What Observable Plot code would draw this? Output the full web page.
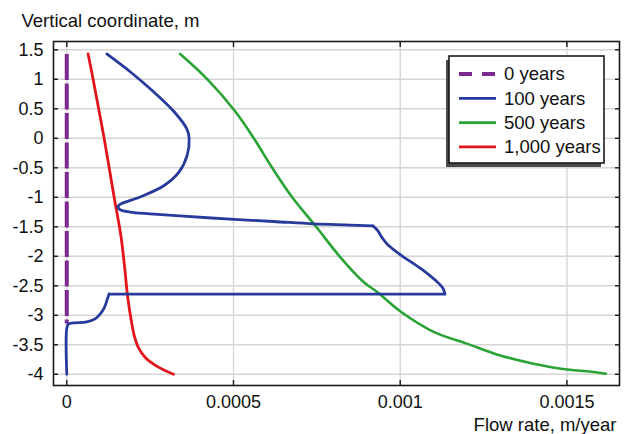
<!DOCTYPE html>
<html><head><meta charset="utf-8">
<script src="https://cdn.jsdelivr.net/npm/d3@7"></script>
<script src="https://cdn.jsdelivr.net/npm/@observablehq/plot@0.6"></script>
<style>body{margin:0;background:#fff;} svg{display:block}</style>
</head><body><div id="chart"></div>
<script>
// ---- data (flow rate m/year, vertical coordinate m) ----
const years0 = [[0, 1.43], [0, -3.14]];
// 100 years, drawn in pieces so its sharp corners stay sharp
const years100Arc = [
  [0.00012, 1.43], [0.000192, 1.12], [0.000262, 0.78], [0.000322, 0.45], [0.00036, 0.16],
  [0.000367, 0], [0.000361, -0.29], [0.000337, -0.57], [0.000292, -0.8], [0.000222, -0.99],
  [0.000157, -1.13], [0.000153, -1.17]
];
const years100Upper = [
  [0.000153, -1.17], [0.00016, -1.21], [0.00019, -1.25], [0.00025, -1.28], [0.00035, -1.32],
  [0.00049, -1.37], [0.00062, -1.41], [0.00074, -1.45], [0.00085, -1.47], [0.000918, -1.485]
];
const years100Step = [
  [0.000918, -1.485], [0.000932, -1.56], [0.000945, -1.68], [0.000962, -1.8], [0.001002, -1.98],
  [0.001062, -2.21], [0.001108, -2.42], [0.001128, -2.54], [0.001134, -2.64]
];
const years100Flat = [[0.001134, -2.64], [0.000127, -2.64]];
const years100Base = [
  [0.000127, -2.64], [0.000122, -2.72], [0.000112, -2.88], [0.0001, -2.98], [0.000085, -3.06],
  [0.00006, -3.11], [0.00002, -3.13], [0.000005, -3.15], [0, -3.22], [0, -4.0]
];
const years500 = [
  [0.00034, 1.43], [0.000422, 1.0], [0.000506, 0.45], [0.000561, 0], [0.000616, -0.5],
  [0.000676, -1.0], [0.000748, -1.5], [0.000818, -2.0], [0.000891, -2.44], [0.00093, -2.6],
  [0.001002, -2.94], [0.0011, -3.28], [0.0012, -3.48], [0.0013, -3.68], [0.0014, -3.82],
  [0.0015, -3.92], [0.00158, -3.96], [0.001617, -3.99]
];
const years1000 = [
  [0.000064, 1.43], [0.000079, 1.0], [0.000112, 0], [0.000142, -1.0], [0.000162, -1.64],
  [0.000174, -2.21], [0.000182, -2.66], [0.000194, -3.11], [0.000203, -3.36], [0.000214, -3.54],
  [0.000236, -3.72], [0.000272, -3.87], [0.00032, -4.0]
];
const seriesNames = ["0 years", "100 years", "500 years", "1,000 years"];
const seriesColors = ["#7b2a90", "#283a9c", "#2aa336", "#e3141c"];
const xTicks = [0, 0.0005, 0.001, 0.0015];
const xTickLabels = ["0", "0.0005", "0.001", "0.0015"];
const yTicks = [1.5, 1, 0.5, 0, -0.5, -1, -1.5, -2, -2.5, -3, -3.5, -4];
const yTickLabels = ["1.5", "1", "0.5", "0", "-0.5", "-1", "-1.5", "-2", "-2.5", "-3", "-3.5", "-4"];
const yTitle = "Vertical coordinate, m";
const xTitle = "Flow rate, m/year";

const FONT = "'Liberation Sans', Arial, sans-serif";
const xFmt = d => xTickLabels[xTicks.indexOf(d)];
const yFmt = d => yTickLabels[yTicks.indexOf(d)];
const lineOpts = (c, w, extra = {}) => ({x: d => d[0], y: d => d[1], stroke: c, strokeWidth: w, strokeLinejoin: "round", strokeLinecap: "round", ...extra});
const blue = (data, curve) => Plot.line(data, lineOpts(seriesColors[1], 2.8, {curve}));

const plot = Plot.plot({
  width: 628, height: 434,
  marginLeft: 53, marginRight: 9, marginTop: 41, marginBottom: 49,
  style: {fontFamily: FONT, fontSize: "18px", color: "#111", background: "#fff", overflow: "visible"},
  x: {domain: [-0.0000398, 0.0016576]},
  y: {domain: [-4.19, 1.641]},
  marks: [
    Plot.gridX(xTicks, {stroke: "#d6d6d6", strokeOpacity: 1, strokeWidth: 1.4}),
    Plot.gridY(yTicks, {stroke: "#d6d6d6", strokeOpacity: 1, strokeWidth: 1.4}),
    Plot.line(years0, lineOpts(seriesColors[0], 4, {strokeDasharray: "26,3.5", strokeLinecap: "butt"})),
    Plot.line(years500, lineOpts(seriesColors[2], 2.6, {curve: "catmull-rom"})),
    Plot.line(years1000, lineOpts(seriesColors[3], 2.8, {curve: "catmull-rom"})),
    blue(years100Arc, "catmull-rom"),
    blue(years100Upper, "catmull-rom"),
    blue(years100Step, "catmull-rom"),
    blue(years100Flat, "linear"),
    blue(years100Base, "catmull-rom"),
    Plot.frame({stroke: "#1a1a1a", strokeWidth: 1.6}),
    // inward ticks on all four sides
    Plot.axisX(xTicks, {anchor: "bottom", tickSize: 5, dy: -5, fill: "none", label: null, stroke: "#1a1a1a", strokeWidth: 1.4}),
    Plot.axisX(xTicks, {anchor: "top", tickSize: 5, dy: 5, fill: "none", label: null, stroke: "#1a1a1a", strokeWidth: 1.4}),
    Plot.axisY(yTicks, {anchor: "left", tickSize: 5, dx: 5, fill: "none", label: null, stroke: "#1a1a1a", strokeWidth: 1.4}),
    Plot.axisY(yTicks, {anchor: "right", tickSize: 5, dx: -5, fill: "none", label: null, stroke: "#1a1a1a", strokeWidth: 1.4}),
    // labels
    Plot.axisX(xTicks, {anchor: "bottom", tickSize: 0, tickPadding: 10, tickFormat: xFmt, label: null, fill: "#111"}),
    Plot.axisY(yTicks, {anchor: "left", tickSize: 0, tickPadding: 10, tickFormat: yFmt, label: null, fill: "#111"}),
    Plot.text([yTitle], {text: d => d, frameAnchor: "top-left", textAnchor: "start", lineAnchor: "bottom", dx: -32, dy: -14.7, fontSize: 18.5, fill: "#111"}),
    Plot.text([xTitle], {text: d => d, frameAnchor: "bottom-right", textAnchor: "end", lineAnchor: "bottom", dx: -3, dy: 45.5, fontSize: 18.5, fill: "#111"})
  ]
});
document.getElementById("chart").appendChild(plot);

// ---- legend (inside plot, top-right) ----
const svg = d3.select(plot);
const lg = svg.append("g").attr("font-family", FONT).attr("font-size", 18.5).attr("text-anchor", "start");
lg.append("rect").attr("x", 446).attr("y", 60).attr("width", 155).attr("height", 107).attr("fill", "#4a4a4a");
lg.append("rect").attr("x", 449).attr("y", 56).attr("width", 155).attr("height", 107).attr("fill", "#fff").attr("stroke", "#1a1a1a").attr("stroke-width", 1.6);
const rowY = [74, 98.3, 122.6, 146.8];
seriesNames.forEach((name, i) => {
  lg.append("line").attr("x1", 459).attr("x2", 496).attr("y1", rowY[i]).attr("y2", rowY[i])
    .attr("stroke", seriesColors[i]).attr("stroke-width", i === 0 ? 4 : 2.8)
    .attr("stroke-dasharray", i === 0 ? "13,10" : null);
  lg.append("text").attr("x", 504).attr("y", rowY[i]).attr("dy", "0.35em").attr("text-anchor", "start").attr("fill", "#111").text(name);
});
</script>
</body></html>
